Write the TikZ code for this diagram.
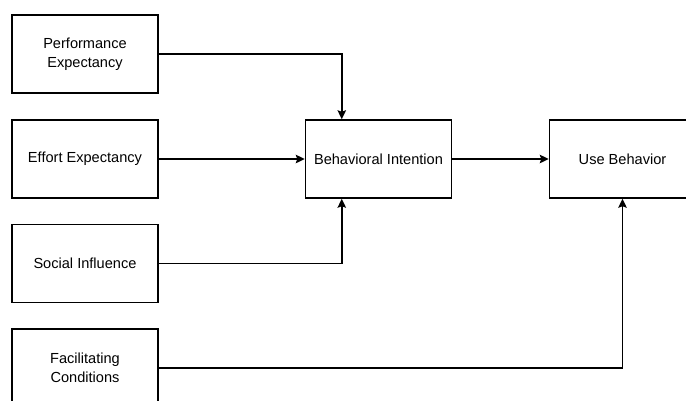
\documentclass[tikz,border=0pt]{standalone}
\usepackage{fontspec}
\setmainfont{Liberation Sans}
\usetikzlibrary{arrows.meta}
\usetikzlibrary{shapes}

\begin{document}
\begin{tikzpicture}[x = 0.02cm, y = -0.02cm]
\tikzstyle{FactorStyle} = [shape = rectangle, draw, line width = 0.85pt, minimum width = 2.92cm, minimum height = 1.56cm, align = center, font = \fontsize{8.3}{10.6}\selectfont, inner sep = 0pt]
\tikzstyle{LinkStyle} = [line width = 0.85pt, -{Stealth[length = 0.18cm, width = 0.17cm, inset = 0.03cm]}]
\useasboundingbox (0, 0) rectangle (686, 400);
\node[FactorStyle] (pe) at (85, 54) {Performance\\Expectancy};
\node[FactorStyle] (ee) at (85, 159) {Effort Expectancy};
\node[FactorStyle] (si) at (85, 263.5) {Social Influence};
\node[FactorStyle] (fc) at (85, 368) {Facilitating\\Conditions};
\node[FactorStyle] (bi) at (378.5, 159) {Behavioral Intention};
\node[FactorStyle] (ub) at (622.5, 159) {Use Behavior};
\draw[LinkStyle] (pe.east) -| ([xshift = 0.74cm]bi.north west);
\draw[LinkStyle] (ee) -- (bi);
\draw[LinkStyle] (si.east) -| ([xshift = 0.74cm]bi.south west);
\draw[LinkStyle] (bi) -- (ub);
\draw[LinkStyle] (fc.east) -| (ub.south);
\end{tikzpicture}
\end{document}
